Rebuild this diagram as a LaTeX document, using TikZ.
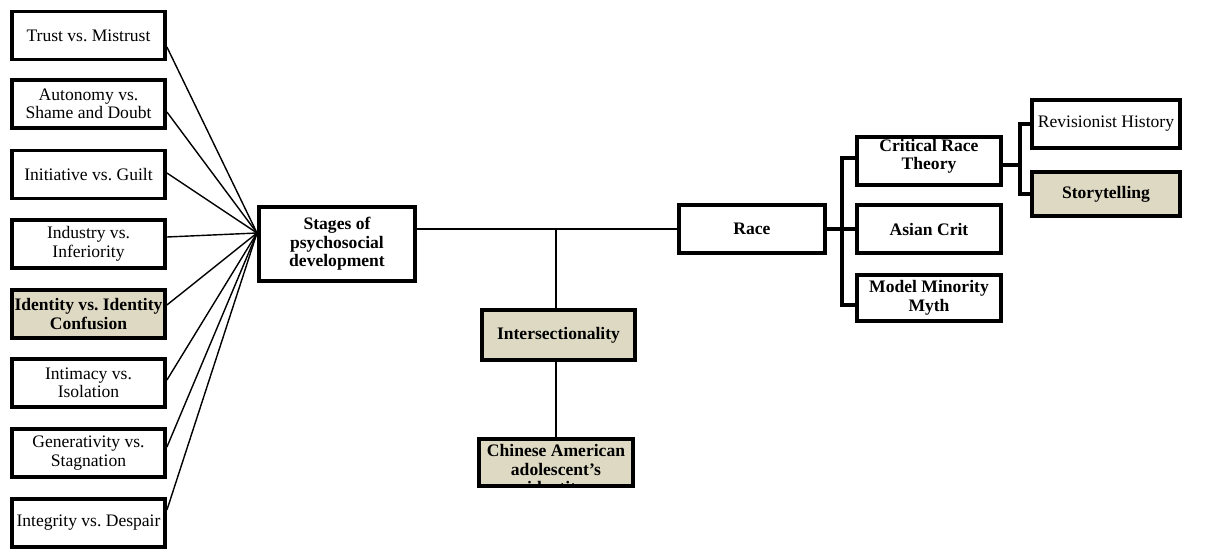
\documentclass[tikz,border=0pt]{standalone}
\usepackage{fontspec}
\setmainfont{Liberation Serif}
\frenchspacing
\definecolor{tan}{RGB}{221,217,195}
\begin{document}
\begin{tikzpicture}[x=0.02cm,y=-0.02cm,
  box/.style={draw=black,line width=2.2pt,fill=white,inner sep=0pt,align=center,
    font=\fontsize{10pt}{10.5pt}\selectfont},
  lbox/.style={box,minimum width=3.06cm,minimum height=0.96cm},
  hl/.style={fill=tan,font=\fontsize{10pt}{10.5pt}\selectfont\bfseries},
  bld/.style={font=\fontsize{10pt}{10.5pt}\selectfont\bfseries},
  thin/.style={line width=0.8pt},
  bracket/.style={line width=2pt}]
\useasboundingbox (0,0) rectangle (1210,551);
% left column
\node[lbox] (t1) at (88.5,35.5) {Trust vs. Mistrust};
\node[lbox] (t2) at (88.5,104) {Autonomy vs.\\Shame and Doubt};
\node[lbox] (t3) at (88.5,174.5) {Initiative vs. Guilt};
\node[lbox] (t4) at (88.5,244) {Industry vs.\\Inferiority};
\node[lbox,hl] (t5) at (88.5,314) {Identity vs. Identity\\Confusion};
\node[lbox] (t6) at (88.5,383) {Intimacy vs.\\Isolation};
\node[lbox] (t7) at (88.5,453) {Generativity vs.\\Stagnation};
\node[lbox] (t8) at (88.5,523) {Integrity vs. Despair};
% centre
\node[box,bld,minimum width=3.12cm,minimum height=1.48cm] (stages) at (337,244) {Stages of\\psychosocial\\development};
\node[box,bld,minimum width=2.92cm,minimum height=0.96cm] (race) at (752,229) {Race};
\node[box,hl,minimum width=3.06cm,minimum height=0.99cm] (inter) at (558.5,335) {Intersectionality};
\node[box,hl,minimum width=3.08cm,minimum height=0.94cm] (chin) at (556,462.5) {};
\begin{scope}
\clip ([xshift=1.1pt,yshift=-1.1pt]chin.north west) rectangle ([xshift=-1.1pt,yshift=1.1pt]chin.south east);
\node[anchor=north,inner sep=0pt,align=center,bld] (chintext) at ([yshift=-0.14cm]chin.north) {Chinese American\\adolescent's\\identity};
\end{scope}
% right
\node[box,bld,minimum width=2.88cm,minimum height=0.96cm] (crt) at (929,161) {Critical Race\\Theory\\[-0.3em]\mbox{}};
\node[box,bld,minimum width=2.88cm,minimum height=0.96cm] (asian) at (929,229) {Asian Crit};
\node[box,bld,minimum width=2.88cm,minimum height=0.92cm] (mmm) at (929,298) {Model Minority\\Myth};
\node[box,minimum width=2.96cm,minimum height=0.96cm] (rev) at (1106,124) {Revisionist History};
\node[box,hl,minimum width=2.96cm,minimum height=0.88cm] (story) at (1106,194) {Storytelling};
% connectors left
\coordinate (conv) at (257,233);
\draw[thin] ([yshift=-0.23cm]t1.east) -- (conv);
\draw[thin] ([yshift=-0.16cm]t2.east) -- (conv);
\draw[thin] ([yshift=0.03cm]t3.east) -- (conv);
\draw[thin] ([yshift=0.14cm]t4.east) -- (conv);
\draw[thin] ([yshift=0.18cm]t5.east) -- (conv);
\draw[thin] ([yshift=0.06cm]t6.east) -- (conv);
\draw[thin] ([yshift=0.12cm]t7.east) -- (conv);
\draw[thin] ([yshift=0.26cm]t8.east) -- (conv);
% main line
\draw[thin] (stages.east |- race.west) -- (race.west);
\coordinate (j1) at (556,229);
\draw[thin] (j1) -- (j1 |- inter.north);
\draw[thin] (inter.south -| chin.north) -- (chin.north);
% race bracket
\coordinate (rb) at (842,229);
\draw[bracket] (race.east) -- (asian.west);
\draw[bracket] ([yshift=0.06cm]crt.west) -| (rb) |- ([yshift=-0.14cm]mmm.west);
% crt bracket
\coordinate (cb) at (1020,165);
\draw[bracket] ([yshift=-0.08cm]crt.east) -- (cb);
\draw[bracket] (rev.west) -| (cb) |- (story.west);
\end{tikzpicture}
\end{document}
